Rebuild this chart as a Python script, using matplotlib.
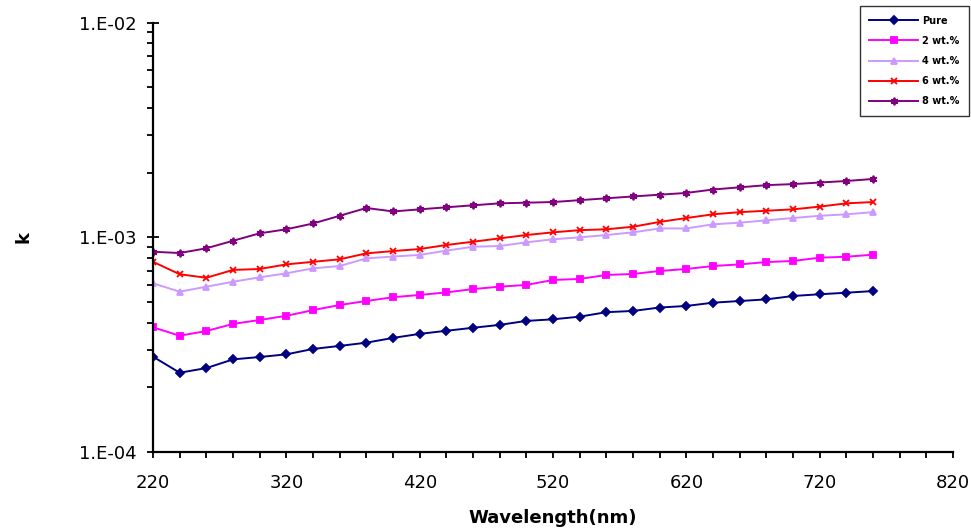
import matplotlib.pyplot as plt
from matplotlib.ticker import FixedLocator, LogLocator, NullFormatter

wavelength = list(range(220, 761, 20))

k_pure = [2.78e-4, 2.34e-4, 2.46e-4, 2.70e-4, 2.77e-4, 2.85e-4, 3.02e-4, 3.12e-4,
          3.23e-4, 3.40e-4, 3.55e-4, 3.67e-4, 3.79e-4, 3.91e-4, 4.08e-4, 4.15e-4,
          4.27e-4, 4.48e-4, 4.54e-4, 4.71e-4, 4.79e-4, 4.96e-4, 5.05e-4, 5.14e-4,
          5.33e-4, 5.43e-4, 5.52e-4, 5.62e-4]
k_2wt = [3.81e-4, 3.48e-4, 3.66e-4, 3.95e-4, 4.12e-4, 4.31e-4, 4.58e-4, 4.84e-4,
         5.05e-4, 5.26e-4, 5.39e-4, 5.54e-4, 5.74e-4, 5.89e-4, 6.00e-4, 6.33e-4,
         6.40e-4, 6.68e-4, 6.75e-4, 6.97e-4, 7.12e-4, 7.35e-4, 7.48e-4, 7.67e-4,
         7.76e-4, 8.04e-4, 8.12e-4, 8.30e-4]
k_4wt = [6.11e-4, 5.58e-4, 5.89e-4, 6.21e-4, 6.51e-4, 6.80e-4, 7.17e-4, 7.35e-4,
         7.98e-4, 8.14e-4, 8.28e-4, 8.67e-4, 9.04e-4, 9.11e-4, 9.48e-4, 9.79e-4,
         1.000e-3, 1.025e-3, 1.055e-3, 1.10e-3, 1.10e-3, 1.15e-3, 1.17e-3, 1.20e-3,
         1.23e-3, 1.26e-3, 1.28e-3, 1.31e-3]
k_6wt = [7.69e-4, 6.73e-4, 6.48e-4, 7.05e-4, 7.12e-4, 7.48e-4, 7.69e-4, 7.90e-4,
         8.42e-4, 8.63e-4, 8.82e-4, 9.21e-4, 9.54e-4, 9.89e-4, 1.025e-3, 1.055e-3,
         1.08e-3, 1.09e-3, 1.12e-3, 1.18e-3, 1.23e-3, 1.28e-3, 1.31e-3, 1.33e-3,
         1.35e-3, 1.39e-3, 1.44e-3, 1.46e-3]
k_8wt = [8.57e-4, 8.45e-4, 8.89e-4, 9.64e-4, 1.044e-3, 1.09e-3, 1.16e-3, 1.26e-3,
         1.37e-3, 1.32e-3, 1.35e-3, 1.38e-3, 1.41e-3, 1.44e-3, 1.45e-3, 1.46e-3,
         1.49e-3, 1.52e-3, 1.55e-3, 1.58e-3, 1.61e-3, 1.67e-3, 1.71e-3, 1.75e-3,
         1.77e-3, 1.80e-3, 1.83e-3, 1.87e-3]

labels = ['Pure', '2 wt.%', '4 wt.%', '6 wt.%', '8 wt.%']
series = [k_pure, k_2wt, k_4wt, k_6wt, k_8wt]
colors = ['#000080', '#FF00FF', '#CC99FF', '#FF0000', '#800080']
markers = ['D', 's', '^', 'x', (6, 2, 0)]
msizes = [4, 4.5, 5, 5, 5.5]

fig = plt.figure(figsize=(9.71, 5.31), dpi=100)
ax = fig.add_axes([0.1576, 0.1488, 0.8239, 0.8085])

for y, lab, c, m, ms in zip(series, labels, colors, markers, msizes):
    ax.plot(wavelength, y, color=c, marker=m, markersize=ms, linewidth=1.4,
            markeredgewidth=1.3, label=lab)

ax.set_yscale('log')
ax.set_ylim(1e-4, 1e-2)
ax.set_xlim(220, 820)

ax.xaxis.set_major_locator(FixedLocator(range(220, 821, 100)))
ax.xaxis.set_minor_locator(FixedLocator(range(220, 821, 20)))
ax.yaxis.set_major_locator(FixedLocator([1e-4, 1e-3, 1e-2]))
ax.yaxis.set_minor_locator(LogLocator(base=10, subs=range(2, 10)))
ax.yaxis.set_minor_formatter(NullFormatter())
ax.set_yticklabels(['1.E-04', '1.E-03', '1.E-02'])

ax.tick_params(axis='both', which='both', direction='out', length=4, width=1.3,
               labelsize=13, colors='black')
ax.tick_params(axis='x', which='major', pad=12)
ax.tick_params(axis='y', which='major', direction='inout', length=8, pad=7.5)

for s in ['top', 'right']:
    ax.spines[s].set_visible(False)
for s in ['left', 'bottom']:
    ax.spines[s].set_linewidth(1.6)

ax.set_xlabel('Wavelength(nm)', fontsize=13, fontweight='bold', labelpad=12)
ax.set_ylabel('k', fontsize=13, fontweight='bold')
ax.yaxis.set_label_coords(-0.151, 0.5)

leg = fig.legend(loc='upper right', bbox_to_anchor=(0.998, 0.989),
                 prop={'size': 7, 'weight': 'bold'},
                 frameon=True, fancybox=False, borderpad=1.0, labelspacing=1.05,
                 handlelength=5.0, handletextpad=0.4, borderaxespad=0)
leg.get_frame().set_edgecolor('black')
leg.get_frame().set_linewidth(1.0)

fig.savefig('out.png', dpi=100)
